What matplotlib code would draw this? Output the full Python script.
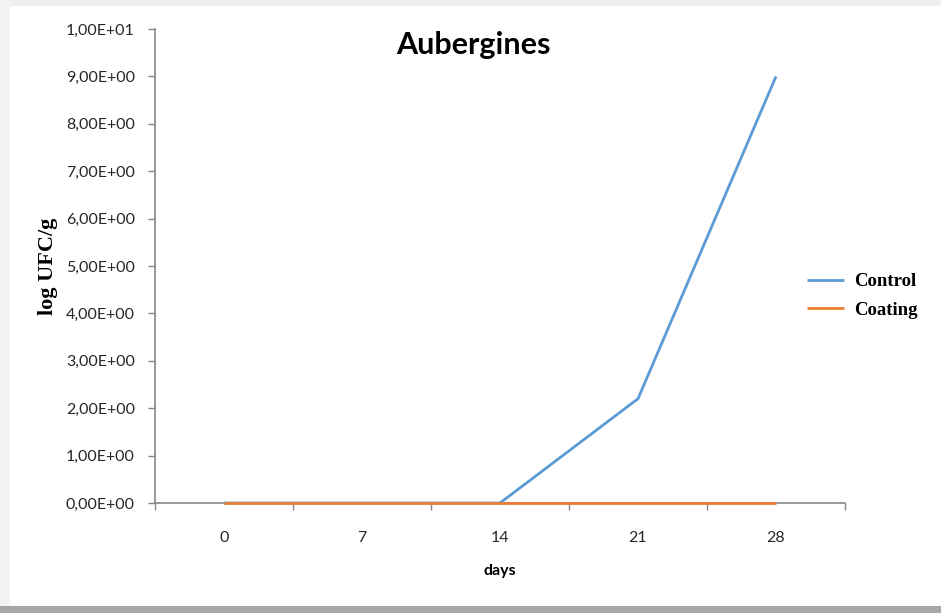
import matplotlib.pyplot as plt
from matplotlib.patches import Rectangle
from matplotlib.ticker import FuncFormatter, FixedLocator

days = ['0', '7', '14', '21', '28']
control = [0.0, 0.0, 0.0, 2.2, 9.0]
coating = [0.0, 0.0, 0.0, 0.0, 0.0]

axis_grey = '#868686'
serif = ['Liberation Serif', 'DejaVu Serif']


def sci_comma(v, pos):
    return '{:.2E}'.format(v).replace('.', ',')


def main():
    fig = plt.figure(figsize=(9.41, 6.13), dpi=100)
    fig.patch.set_facecolor('white')

    # window frame: light strips top/left, shadow at the bottom
    fig.patches.append(Rectangle((0, 1 - 6 / 613), 1, 6 / 613, transform=fig.transFigure,
                                 facecolor='#f0f0f0', edgecolor='none', zorder=0))
    fig.patches.append(Rectangle((0, 0), 10 / 941, 1, transform=fig.transFigure,
                                 facecolor='#f3f3f3', edgecolor='none', zorder=0))
    fig.patches.append(Rectangle((0, 0), 1, 7 / 613, transform=fig.transFigure,
                                 facecolor='#a6a6a6', edgecolor='none', zorder=0))

    ax = fig.add_axes([155 / 941, 1 - 503 / 613, 690 / 941, 474 / 613])
    x = list(range(len(days)))
    ax.plot(x, control, color='#5B9BD5', lw=2, label='Control',
            solid_capstyle='butt', clip_on=False, zorder=3)
    ax.plot(x, coating, color='#ED7D31', lw=2, label='Coating',
            solid_capstyle='butt', clip_on=False, zorder=4)

    ax.set_xlim(-0.5, len(days) - 0.5)
    ax.set_ylim(0, 10)
    ax.set_yticks(range(0, 11))
    ax.yaxis.set_major_formatter(FuncFormatter(sci_comma))

    ax.set_xticks(x)
    ax.set_xticklabels(days)
    ax.xaxis.set_minor_locator(FixedLocator([i - 0.5 for i in range(len(days) + 1)]))
    ax.tick_params(axis='x', which='major', length=0, pad=20)
    ax.tick_params(axis='x', which='minor', length=5, color=axis_grey, width=1)
    ax.tick_params(axis='y', length=5, color=axis_grey, width=1, pad=9.5)
    for lab in ax.get_xticklabels() + ax.get_yticklabels():
        lab.set_fontfamily('Lato')
        lab.set_fontsize(11.5)
        lab.set_color('#262626')

    for side in ['top', 'right']:
        ax.spines[side].set_visible(False)
    for side in ['left', 'bottom']:
        ax.spines[side].set_color(axis_grey)
        ax.spines[side].set_linewidth(1.2)

    ax.set_xlabel('days', fontfamily='Lato', fontweight='bold', fontsize=11.5, labelpad=14)
    ax.set_ylabel('log UFC/g', fontfamily=serif, fontweight='bold', fontsize=16,
                  labelpad=6)
    ax.text(0.462, 0.966, 'Aubergines', transform=ax.transAxes, ha='center', va='center',
            fontfamily='Lato', fontweight='bold', fontsize=22)

    ax.legend(loc='center left', bbox_to_anchor=(0.92, 0.437), frameon=False,
              handlelength=2.0, handletextpad=0.55, labelspacing=0.6,
              prop={'family': serif, 'weight': 'bold', 'size': 13.5})

    plt.savefig('out.png', dpi=100, facecolor=fig.get_facecolor())


if __name__ == '__main__':
    main()
